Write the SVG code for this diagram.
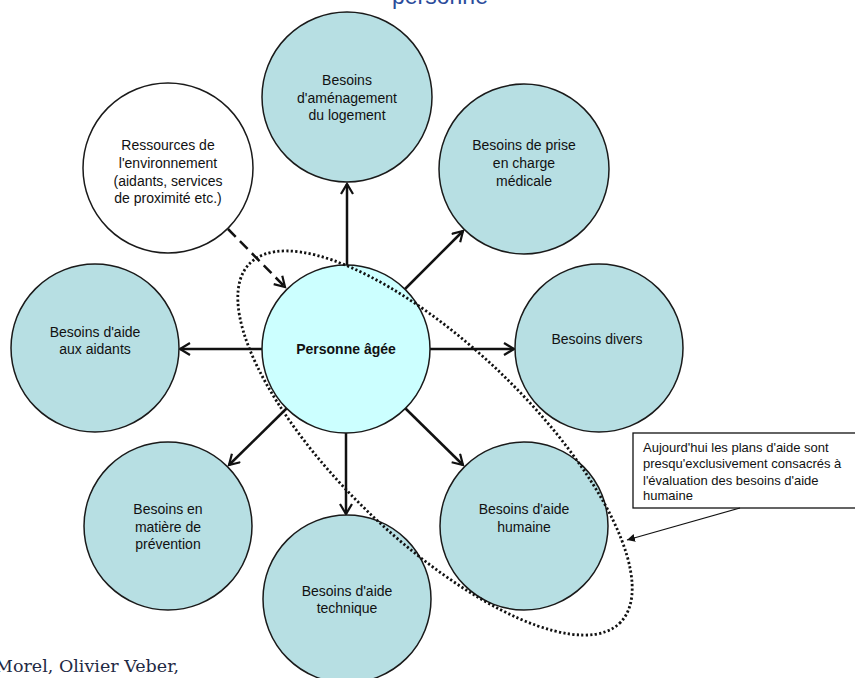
<svg xmlns="http://www.w3.org/2000/svg" width="855" height="678" viewBox="0 0 855 678">
<defs>
<style>
.n{fill:#B7DFE3;stroke:#1a1a1a;stroke-width:1.5}
.c{fill:#CCFFFF;stroke:#1a1a1a;stroke-width:1.5}
.w{fill:#ffffff;stroke:#1a1a1a;stroke-width:1.5}
.t{font-family:"Liberation Sans",Arial,sans-serif;font-size:14px;fill:#111;text-anchor:middle}
.b{font-weight:bold}
.a{stroke:#111;stroke-width:2.5;fill:none;marker-end:url(#ah)}
.d{stroke:#111;stroke-width:2.5;fill:none;stroke-dasharray:11 6;marker-end:url(#ah)}
.k{font-family:"Liberation Sans",Arial,sans-serif;font-size:13px;fill:#111}
</style>
<marker id="ah" markerUnits="userSpaceOnUse" markerWidth="16" markerHeight="16" refX="11" refY="7" orient="auto">
<path d="M1,1 L11,7 L1,13" fill="none" stroke="#111" stroke-width="2.2"/>
</marker>
<marker id="sm" markerUnits="userSpaceOnUse" markerWidth="10" markerHeight="10" refX="8" refY="4" orient="auto">
<path d="M0,0 L8,4 L0,8 Z" fill="#111"/>
</marker>
</defs>
<rect width="855" height="678" fill="#fff"/>
<text x="440" y="4" style="font-family:'Liberation Sans',Arial,sans-serif;font-size:23px;fill:#2B4C9B" text-anchor="middle">personne</text>

<g id="edges">
<line class="a" x1="347" y1="265" x2="347" y2="184"/>
<line class="a" x1="405" y1="289" x2="463" y2="231"/>
<line class="a" x1="430" y1="349" x2="514" y2="349"/>
<line class="a" x1="405" y1="408" x2="463" y2="465"/>
<line class="a" x1="346" y1="433" x2="346" y2="514"/>
<line class="a" x1="287" y1="408" x2="229" y2="465"/>
<line class="a" x1="262" y1="349" x2="180" y2="349"/>
<line class="d" x1="228" y1="229" x2="285" y2="287"/>
</g>

<g id="n-logement"><circle class="n" cx="347" cy="97" r="85"/>
<text class="t" x="347" y="85">Besoins</text><text class="t" x="347" y="103">d'aménagement</text><text class="t" x="347" y="120">du logement</text></g>
<g id="n-medicale"><circle class="n" cx="524" cy="169" r="85"/>
<text class="t" x="524" y="150">Besoins de prise</text><text class="t" x="524" y="168">en charge</text><text class="t" x="524" y="186">médicale</text></g>
<g id="n-ressources"><circle class="w" cx="168" cy="168" r="85"/>
<text class="t" x="168" y="150">Ressources de</text><text class="t" x="168" y="168">l'environnement</text><text class="t" x="168" y="186">(aidants, services</text><text class="t" x="168" y="203">de proximité etc.)</text></g>
<g id="n-aidants"><circle class="n" cx="95" cy="348" r="84"/>
<text class="t" x="95" y="337">Besoins d'aide</text><text class="t" x="95" y="354">aux aidants</text></g>
<g id="n-personne"><circle class="c" cx="346" cy="349" r="84"/>
<text class="t b" x="346" y="354">Personne âgée</text></g>
<g id="n-divers"><circle class="n" cx="599" cy="348" r="84"/>
<text class="t" x="597" y="344">Besoins divers</text></g>
<g id="n-humaine"><circle class="n" cx="524" cy="526" r="84"/>
<text class="t" x="524" y="514">Besoins d'aide</text><text class="t" x="524" y="532">humaine</text></g>
<g id="n-prevention"><circle class="n" cx="168" cy="526" r="84"/>
<text class="t" x="168" y="514">Besoins en</text><text class="t" x="168" y="532">matière de</text><text class="t" x="168" y="549">prévention</text></g>
<g id="n-technique"><circle class="n" cx="347" cy="599" r="84"/>
<text class="t" x="347" y="596">Besoins d'aide</text><text class="t" x="347" y="613">technique</text></g>

<g id="ellipse">
<ellipse cx="435" cy="443" rx="258" ry="96" transform="rotate(44 435 443)" fill="none" stroke="#111" stroke-width="2.8" stroke-dasharray="2.2 2.3"/>
</g>

<g id="callout">
<rect x="633" y="433" width="226" height="75" fill="#fff" stroke="#111" stroke-width="1.3"/>
<text class="k" x="643" y="452">Aujourd'hui les plans d'aide sont</text>
<text class="k" x="643" y="468">presqu'exclusivement consacrés à</text>
<text class="k" x="643" y="485">l'évaluation des besoins d'aide</text>
<text class="k" x="643" y="500">humaine</text>
<line x1="740" y1="508" x2="627" y2="540" stroke="#111" stroke-width="1.2" marker-end="url(#sm)"/>
</g>

<text x="-5" y="672" style="font-family:'DejaVu Serif','Liberation Serif',serif;font-size:17.5px;fill:#1F2A44">Morel, Olivier Veber,</text>
</svg>
